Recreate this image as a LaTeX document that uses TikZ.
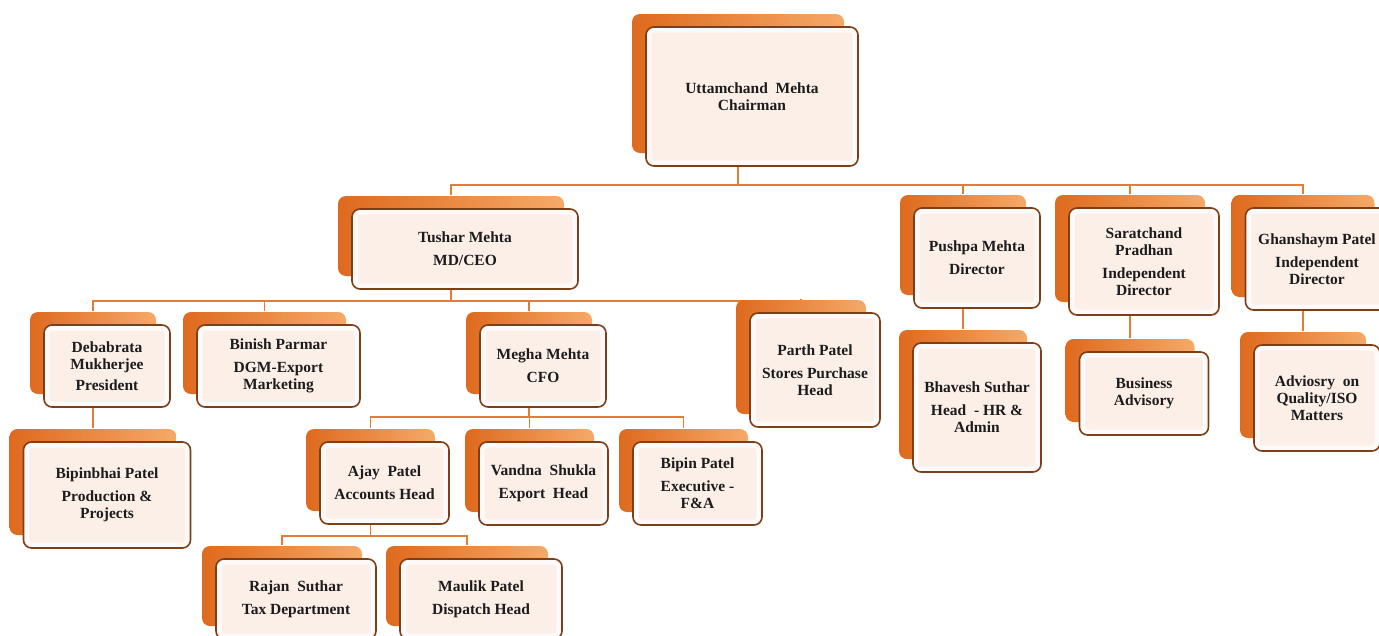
\documentclass[tikz,border=0pt]{standalone}
\usepackage{fontspec}
\setmainfont{Liberation Serif}
\usetikzlibrary{shadows,backgrounds}
\definecolor{ocDeep}{HTML}{DE6A1E}
\definecolor{ocLight}{HTML}{F6A968}
\definecolor{ocFace}{HTML}{FCEFE8}
\definecolor{ocEdge}{HTML}{7E3F18}
\definecolor{ocLink}{HTML}{E47B36}
\definecolor{ocText}{HTML}{1C1C1C}
\tikzset{
    % front card with the orange card behind it
    post/.style={draw=ocEdge,line width=1.6pt,rounded corners=8pt,fill=ocFace,align=center,
        inner sep=2pt,text=ocText,font=\fontsize{15.5}{17}\selectfont\bfseries,
        general shadow={shadow xshift=-14pt,shadow yshift=13pt,left color=ocDeep,right color=ocLight},
        path picture={\draw[white,opacity=.75,line width=5pt,rounded corners=5pt]
            ([shift={(3pt,3pt)}]path picture bounding box.south west) rectangle
            ([shift={(-3pt,-3pt)}]path picture bounding box.north east);}},
    wh/.style 2 args={minimum width=#1pt,minimum height=#2pt},
    link/.style={draw=ocLink,line width=1.8pt}
}

\begin{document}
\begin{tikzpicture}[x=1pt,y=-1pt]
\useasboundingbox (0,0) rectangle (1379,635);

% top
\node[post,wh={212}{139}] at (752,96.5) (chair) {Uttamchand~ Mehta\\Chairman};

% board level
\node[post,wh={226}{80}] at (465,249) (tushar) {Tushar Mehta\\[6pt]MD/CEO};
\node[post,wh={126}{100}] at (977,258) (pushpa) {Pushpa Mehta\\[6pt]Director};
\node[post,wh={150}{107}] at (1144,261.5) (sarat) {Saratchand\\Pradhan\\[6pt]Independent\\Director};
\node[post,wh={143}{102}] at (1317,259) (ghan) {Ghanshaym Patel\\[6pt]Independent\\Director};

% under MD/CEO
\node[post,wh={126}{82}] at (107,366) (debab) {Debabrata\\Mukherjee\\[4pt]President};
\node[post,wh={163}{82}] at (278.5,366) (binish) {Binish Parmar\\[6pt]DGM-Export\\Marketing};
\node[post,wh={126}{82}] at (543,366) (megha) {Megha Mehta\\[6pt]CFO};
\node[post,wh={130}{114}] at (815,370) (parth) {Parth Patel\\[6pt]Stores Purchase\\Head};

\node[post,wh={167}{106}] at (107,495) (bipinbhai) {Bipinbhai Patel\\[6pt]Production \&\\Projects};

% under CFO
\node[post,wh={129}{82}] at (384.5,483) (ajay) {Ajay~ Patel\\[6pt]Accounts Head};
\node[post,wh={129}{83}] at (543.5,483.5) (vandna) {Vandna~ Shukla\\[6pt]Export~ Head};
\node[post,wh={129}{83}] at (697.5,483.5) (bipin) {Bipin Patel\\[6pt]Executive -\\F\&A};

\node[post,wh={160}{80}] at (296,599) (rajan) {Rajan~ Suthar\\[6pt]Tax Department};
\node[post,wh={162}{80}] at (481,599) (maulik) {Maulik Patel\\[6pt]Dispatch Head};

% advisory side
\node[post,wh={128}{129}] at (977,407.5) (bhavesh) {Bhavesh Suthar\\[6pt]Head~ - HR \&\\Admin};
\node[post,wh={129}{83}] at (1144,393.5) (business) {Business\\Advisory};
\node[post,wh={126}{106}] at (1317,398) (advise) {Adviosry~ on\\Quality/ISO\\Matters};

% connectors, behind the cards
\begin{scope}[on background layer]
\foreach \n in {tushar,pushpa,sarat,ghan}
    \draw[link] ([xshift=-14pt]chair.south) -- ++(0,18) -| ([shift={(-14pt,13pt)}]\n.north);
\foreach \n in {debab,binish,megha,parth}
    \draw[link] ([xshift=-14pt]tushar.south) -- ++(0,11) -| ([shift={(-14pt,13pt)}]\n.north);
\foreach \n in {ajay,vandna,bipin}
    \draw[link] ([xshift=-14pt]megha.south) -- ++(0,9) -| ([shift={(-14pt,13pt)}]\n.north);
\foreach \n in {rajan,maulik}
    \draw[link] ([xshift=-14pt]ajay.south) -- ++(0,11) -| ([shift={(-14pt,13pt)}]\n.north);
\draw[link] ([xshift=-14pt]debab.south) -- ([shift={(-14pt,13pt)}]bipinbhai.north);
\draw[link] ([xshift=-14pt]pushpa.south) -- ([shift={(-14pt,13pt)}]bhavesh.north);
\draw[link] ([xshift=-14pt]sarat.south) -- ([shift={(-14pt,13pt)}]business.north);
\draw[link] ([xshift=-14pt]ghan.south) -- ([shift={(-14pt,13pt)}]advise.north);
\end{scope}

\end{tikzpicture}
\end{document}
